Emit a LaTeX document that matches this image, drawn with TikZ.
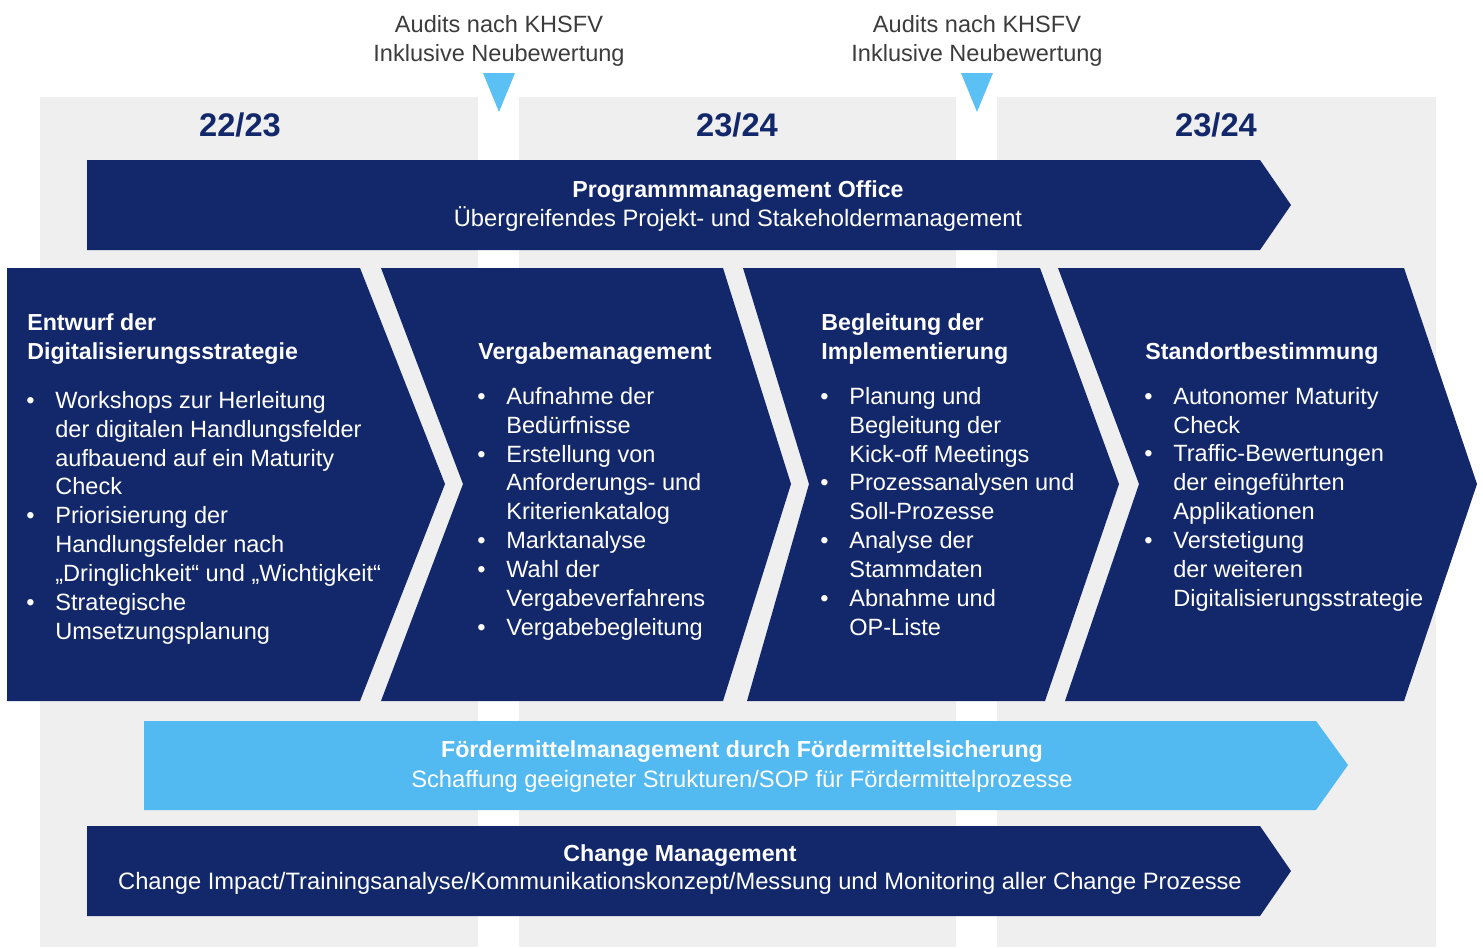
\documentclass[tikz,border=0pt]{standalone}
\usepackage{fontspec}
\setmainfont{Liberation Sans}
\usepackage{xcolor}
\usepackage{tikz}
\usetikzlibrary{positioning,calc}

\definecolor{navy}{HTML}{13286A}
\definecolor{colgrey}{HTML}{EFEFEF}
\definecolor{skyblue}{HTML}{53BAF1}
\definecolor{marker}{HTML}{5BC1F5}
\definecolor{audittext}{HTML}{3C3C3C}

\newcommand{\bitem}{\makebox[0.58cm][l]{\textbullet}}
\newcommand{\bcont}{\hspace*{0.58cm}}

\begin{document}
\begin{tikzpicture}[x=0.02cm,y=-0.02cm,
font=\fontsize{13.4}{16.4}\selectfont]

\tikzstyle{column}=[fill=colgrey]
\tikzstyle{phase}=[fill=navy]
\tikzstyle{year}=[text=navy, anchor=base, inner sep=0pt,
font=\fontsize{18.6}{22}\selectfont\bfseries]
\tikzstyle{audit}=[text=audittext, align=center, anchor=base, inner sep=0pt,
font=\fontsize{13.4}{16.5}\selectfont]
\tikzstyle{phasetitle}=[text=white, align=left, anchor=base west, inner sep=0pt,
font=\fontsize{13.2}{16.5}\selectfont\bfseries]
\tikzstyle{phaselist}=[text=white, align=left, anchor=base west, inner sep=0pt]
\tikzstyle{bantitle}=[text=white, anchor=base, inner sep=0pt,
font=\fontsize{13.2}{16.5}\selectfont\bfseries]
\tikzstyle{bansub}=[text=white, anchor=base, inner sep=0pt,
font=\fontsize{13.5}{16.5}\selectfont]

\useasboundingbox (0,0) rectangle (1483,947);

%year columns
\fill[column] (40,97) rectangle (478,947);
\fill[column] (519,97) rectangle (956,947);
\fill[column] (997,97) rectangle (1436,947);

\node[year] (y1) at (240,136) {22/23};
\node[year] (y2) at (737,136) {23/24};
\node[year] (y3) at (1216,136) {23/24};

%audit markers (anchor = baseline of last line)
\node[audit] (audit1) at (499,61) {Audits nach KHSFV\\Inklusive Neubewertung};
\node[audit] (audit2) at (977,61) {Audits nach KHSFV\\Inklusive Neubewertung};
\fill[marker] (483,73) -- (515,73) -- (499,112) -- cycle;
\fill[marker] (961,73) -- (993,73) -- (977,112) -- cycle;

%programme office
\fill[phase] (87,160) -- (1260,160) -- (1291,205) -- (1260,250) -- (87,250) -- cycle;
\node[bantitle] (pmoT) at (738,197) {Programmmanagement Office};
\node[bansub] (pmoS) at (738,226) {Übergreifendes Projekt- und Stakeholdermanagement};

%phases
\fill[phase] (7,268) -- (360,268) -- (445,484) -- (360,701) -- (7,701) -- cycle;
\fill[phase] (381,268) -- (723,268) -- (791,484) -- (723,701) -- (381,701) -- (463,484) -- cycle;
\fill[phase] (743,268) -- (1040,268) -- (1119,484) -- (1045,701) -- (747,701) -- (809,484) -- cycle;
\fill[phase] (1058,268) -- (1404,268) -- (1477,484) -- (1404,701) -- (1065,701) -- (1139,484) -- cycle;

\node[phasetitle] (t1) at (27,359) {Entwurf der\\Digitalisierungsstrategie};
\node[phaselist] (b1) at (26,639) {\bitem Workshops zur Herleitung\\
\bcont der digitalen Handlungsfelder\\
\bcont aufbauend auf ein Maturity\\
\bcont Check\\
\bitem Priorisierung der\\
\bcont Handlungsfelder nach\\
\bcont „Dringlichkeit“ und „Wichtigkeit“\\
\bitem Strategische\\
\bcont Umsetzungsplanung};

\node[phasetitle] (t2) at (478,359) {Vergabemanagement};
\node[phaselist] (b2) at (477,635) {\bitem Aufnahme der\\
\bcont Bedürfnisse\\
\bitem Erstellung von\\
\bcont Anforderungs- und\\
\bcont Kriterienkatalog\\
\bitem Marktanalyse\\
\bitem Wahl der\\
\bcont Vergabeverfahrens\\
\bitem Vergabebegleitung};

\node[phasetitle] (t3) at (821,359) {Begleitung der\\Implementierung};
\node[phaselist] (b3) at (820,635) {\bitem Planung und\\
\bcont Begleitung der\\
\bcont Kick-off Meetings\\
\bitem Prozessanalysen und\\
\bcont Soll-Prozesse\\
\bitem Analyse der\\
\bcont Stammdaten\\
\bitem Abnahme und\\
\bcont OP-Liste};

\node[phasetitle] (t4) at (1145,359) {Standortbestimmung};
\node[phaselist] (b4) at (1144,606) {\bitem Autonomer Maturity\\
\bcont Check\\
\bitem Traffic-Bewertungen\\
\bcont der eingeführten\\
\bcont Applikationen\\
\bitem Verstetigung\\
\bcont der weiteren\\
\bcont Digitalisierungsstrategie};

%funding
\fill[fill=skyblue] (144,721) -- (1316,721) -- (1348,765) -- (1316,810) -- (144,810) -- cycle;
\node[bantitle] (fmT) at (742,757) {Fördermittelmanagement durch Fördermittelsicherung};
\node[bansub] (fmS) at (742,787) {Schaffung geeigneter Strukturen/SOP für Fördermittelprozesse};

%change management
\fill[phase] (87,826) -- (1260,826) -- (1291,871) -- (1260,916) -- (87,916) -- cycle;
\node[bantitle] (cmT) at (680,861) {Change Management};
\node[bansub] (cmS) at (680,889) {Change Impact/Trainingsanalyse/Kommunikationskonzept/Messung und Monitoring aller Change Prozesse};

\end{tikzpicture}
\end{document}
